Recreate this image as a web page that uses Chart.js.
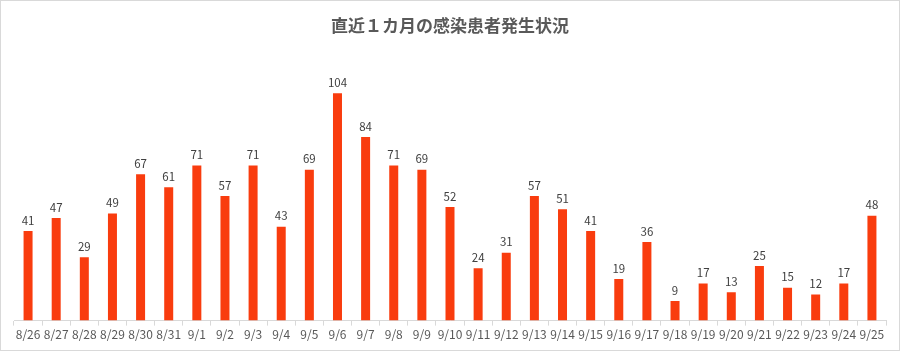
<!DOCTYPE html>
<html>
<head>
<meta charset="utf-8">
<script src="https://cdn.jsdelivr.net/npm/chart.js@4"></script>
<style>
    html, body { margin: 0; padding: 0; background: #fff; }
    #box { width: 900px; height: 351px; box-sizing: border-box; border: 1px solid #d9d9d9; position: relative; }
</style>
</head>
<body>
<div id="box"><canvas id="cases"></canvas></div>
<script>
const days = ["8/26", "8/27", "8/28", "8/29", "8/30", "8/31", "9/1", "9/2", "9/3", "9/4", "9/5", "9/6", "9/7", "9/8", "9/9", "9/10",
    "9/11", "9/12", "9/13", "9/14", "9/15", "9/16", "9/17", "9/18", "9/19", "9/20", "9/21", "9/22", "9/23", "9/24", "9/25"];
const patients = [41, 47, 29, 49, 67, 61, 71, 57, 71, 43, 69, 104, 84, 71, 69, 52,
    24, 31, 57, 51, 41, 19, 36, 9, 17, 13, 25, 15, 12, 17, 48];

// value labels above each bar
const barLabels = {
    id: "barLabels",
    afterDatasetsDraw(chart) {
        const ctx = chart.ctx;
        ctx.save();
        ctx.font = "11.5px 'Noto Sans CJK JP', 'Noto Sans'";
        ctx.fillStyle = "#404040";
        ctx.textAlign = "center";
        ctx.textBaseline = "bottom";
        chart.getDatasetMeta(0).data.forEach((bar, i) => {
            ctx.fillText(patients[i], bar.x, bar.y - 5);
        });
        ctx.restore();
    }
};

new Chart("cases", {
    type: "bar",
    data: {
        labels: days,
        datasets: [{
            backgroundColor: "#f93c0e",
            data: patients,
            barPercentage: 0.64,
            categoryPercentage: 0.5
        }]
    },
    options: {
        responsive: true,
        maintainAspectRatio: false,
        animation: false,
        layout: {
            padding: { left: 13, right: 13, top: 8, bottom: 6 }
        },
        plugins: {
            legend: { display: false },
            tooltip: { enabled: false },
            title: {
                display: true,
                text: "直近１カ月の感染患者発生状況",
                color: "#595959",
                font: { family: "'Noto Sans CJK JP'", size: 17, weight: "bold" },
                padding: { top: 6, bottom: 23 }
            }
        },
        scales: {
            y: {
                display: false,
                min: 0,
                max: 120
            },
            x: {
                grid: {
                    offset: true,
                    drawOnChartArea: false,
                    color: "#d9d9d9",
                    tickLength: 5
                },
                border: { color: "#d9d9d9" },
                ticks: {
                    color: "#595959",
                    maxRotation: 0,
                    autoSkip: false,
                    padding: 2,
                    font: { family: "'Noto Sans CJK JP', 'Noto Sans'", size: 12 }
                }
            }
        }
    },
    plugins: [barLabels]
});
</script>
</body>
</html>
